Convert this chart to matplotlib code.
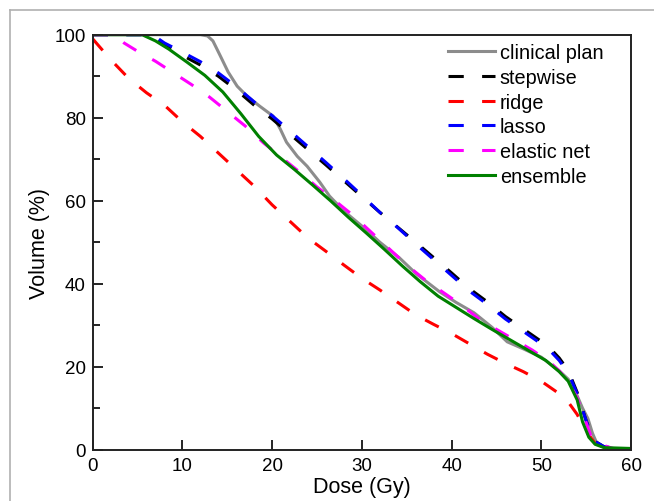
import numpy as np
import matplotlib.pyplot as plt
from matplotlib.lines import Line2D

plt.rcParams['font.family'] = ['Liberation Sans', 'DejaVu Sans']

# DVH curves: dose (Gy) / volume (%) pairs for each model
clinical_dose = [0, 12, 12.8, 13.4, 14.2, 15.1, 16.1, 17.2, 18.6, 20.1, 20.9, 21.6, 22.8, 23.9,
                 25.3, 26.4, 28, 30.5, 32, 34.2, 36, 38.7, 40.5, 42.5, 44.5, 46.2, 48, 50, 52,
                 53, 54, 54.6, 55.2, 55.7, 56.2, 57, 58, 60]
clinical_vol = [100, 100, 99.7, 98.5, 95, 91, 87.6, 85.2, 82.8, 80.4, 77.3, 74.1, 70.7, 68.3,
                64.5, 61.1, 57.5, 53, 50, 46.2, 42.5, 38, 35.5, 33, 29.5, 26, 24.3, 22.3, 19,
                17, 13, 10, 7.5, 4, 1.5, 0.5, 0.2, 0]

lasso_dose = [0, 6, 7, 8, 10, 12, 14, 16, 18, 20, 22, 24, 26, 28, 30, 32, 34, 36, 38, 40, 42,
              44, 46, 48, 50, 51, 52, 53, 54, 55, 55.5, 56, 57, 58, 60]
lasso_vol = [100, 100, 99.5, 98, 95.8, 93.5, 90.8, 87.5, 83.8, 80.5, 76.8, 73, 69.2, 65.3,
             61.3, 57.2, 53.5, 49.6, 45.8, 42, 38.2, 35, 31.5, 28.5, 25.5, 23.8, 21.5, 18.5,
             13.5, 7, 4, 2, 0.7, 0.4, 0]

stepwise_dose = [0, 6, 7, 8, 10, 12, 14, 16, 18, 20, 22, 24, 26, 28, 30, 32, 34, 36, 38, 40,
                 42, 44, 46, 48, 50, 51, 52, 53, 54, 55, 55.5, 56, 57, 58, 60]
stepwise_vol = [100, 100, 99.3, 97.5, 95, 92.7, 90, 86.7, 83, 79.7, 76, 72.3, 68.6, 64.8,
                61, 57.2, 53.6, 50, 46.3, 42.6, 38.8, 35.6, 32.1, 29.1, 26.1, 24.4, 22.1,
                19.1, 13.8, 7, 4, 2, 0.7, 0.4, 0]

ridge_dose = [0, 2, 4, 6, 8, 10, 12, 14, 16, 18, 20, 22, 24, 26, 28, 30, 32, 34, 36, 38, 40,
              42, 44, 46, 48, 50, 52, 53, 54, 55, 56, 57, 58, 60]
ridge_vol = [99, 94, 89.5, 86, 83, 79, 75.5, 71.5, 67.5, 63.5, 59, 55, 51, 47.8, 44.5, 41.3,
             38.5, 35.5, 32.5, 30.2, 28, 25.5, 23, 20.8, 18.8, 16.5, 13.5, 11.5, 8.5, 4.5,
             1.5, 0.4, 0.1, 0]

elastic_dose = [0, 2.5, 3.5, 5, 7, 9, 11, 13, 15, 17, 19, 21, 23, 25, 27, 29, 31, 33, 35, 37,
                39, 41, 43, 45, 47, 49, 51, 52, 53, 54, 55, 55.5, 56, 57, 58, 60]
elastic_vol = [100, 100, 98, 96, 93.6, 90.8, 88, 85, 81.5, 78, 74, 70.5, 67, 63.3, 60, 56.5,
               52.5, 48.5, 44.5, 41, 38, 35, 31.6, 29, 26.5, 24, 21, 19, 16.5, 12.5, 6.5,
               3.5, 2, 1, 0.3, 0]

ensemble_dose = [0, 5.5, 7, 8.5, 10.5, 12.5, 14.5, 16.5, 18.5, 20.5, 22.5, 24.5, 26.5, 28.5,
                 30.5, 32.5, 34.5, 36.5, 38.5, 40.5, 42.5, 44.5, 46.5, 48.5, 50.5, 52, 53,
                 54, 54.6, 55.3, 56, 57, 60]
ensemble_vol = [100, 100, 98.5, 96.5, 93.4, 90.2, 86.2, 81, 75.5, 71, 67.5, 63.8, 60, 56,
                52.2, 48.3, 44.3, 40.5, 37, 34.3, 31.6, 29, 26.5, 24, 21.5, 18.8, 16.5, 12,
                6.7, 3, 1.3, 0.5, 0.3]

dash = (5, 6)
lw = 2.2

fig = plt.figure(figsize=(6.54, 5.02), dpi=100)
ax = fig.add_axes([92.7 / 654, 1 - 450.7 / 502, (631 - 92.7) / 654, (450.7 - 35.7) / 502])

ax.plot(clinical_dose, clinical_vol, color='#8c8c8c', lw=lw, label='clinical plan')
ax.plot(stepwise_dose, stepwise_vol, color='black', lw=lw, dashes=dash, label='stepwise')
ax.plot(ridge_dose, ridge_vol, color='red', lw=lw, dashes=dash, label='ridge')
ax.plot(lasso_dose, lasso_vol, color='blue', lw=lw, dashes=dash, label='lasso')
ax.plot(elastic_dose, elastic_vol, color='magenta', lw=lw, dashes=dash, label='elastic net')
ax.plot(ensemble_dose, ensemble_vol, color='green', lw=lw, label='ensemble')

ax.set_xlim(0, 60)
ax.set_ylim(0, 100)
ax.set_xticks(np.arange(0, 61, 10))
ax.set_yticks(np.arange(0, 101, 20))
ax.set_yticks(np.arange(10, 100, 20), minor=True)
ax.tick_params(direction='in', labelsize=13.5, length=7, width=1.2, pad=5)
ax.tick_params(which='minor', direction='in', length=5, width=1.2)
for s in ax.spines.values():
    s.set_linewidth(1.4)
    s.set_color('#222222')

ax.set_xlabel('Dose (Gy)', fontsize=15.5, labelpad=2)
ax.set_ylabel('Volume (%)', fontsize=15.5, labelpad=3)

ax.legend(loc='upper left', bbox_to_anchor=(0.66, 0.98), frameon=False, fontsize=14.3,
          handlelength=2.36, handletextpad=0.25, labelspacing=0.29, borderpad=0,
          borderaxespad=0)

# thin grey frame along the left and top edges
fig.add_artist(Line2D([9.5 / 654, 9.5 / 654], [0, 1 - 11 / 502], color='#b0b0b0', lw=1.2))
fig.add_artist(Line2D([9.5 / 654, 1], [1 - 11 / 502, 1 - 11 / 502], color='#b0b0b0', lw=1.2))

fig.savefig('out.png', dpi=100)
